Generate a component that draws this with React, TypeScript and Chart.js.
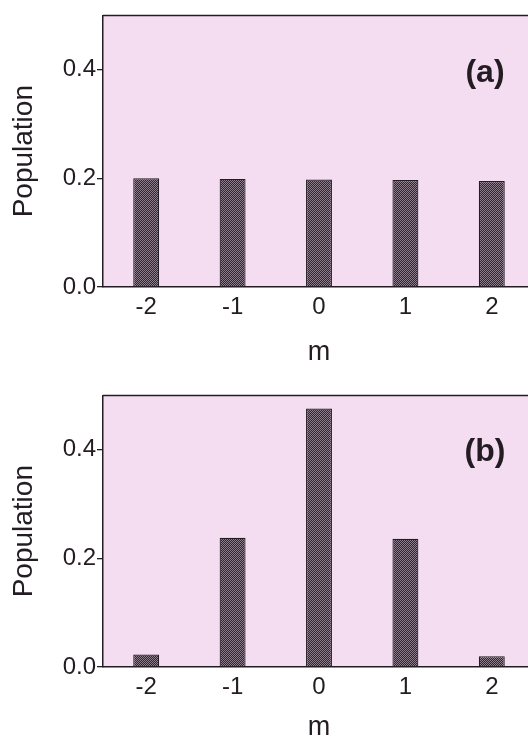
import React, { useEffect, useRef } from 'react';
import { Chart, registerables } from 'chart.js';

Chart.register(...registerables);

// ---- data ----
const mValues = ['-2', '-1', '0', '1', '2'];
const populationA = [0.2, 0.199, 0.198, 0.197, 0.195];
const populationB = [0.023, 0.238, 0.476, 0.236, 0.02];
const yTickValues = [0, 0.2, 0.4];
const yMax = 0.5;
const xTitle = 'm';
const yTitle = 'Population';

const FONT = '"Liberation Sans", Arial, Helvetica, sans-serif';
const PLOT_BG = '#f4dcf1';
const INK = '#231c22';

function makePattern(): CanvasPattern | string {
  const c = document.createElement('canvas');
  c.width = 2;
  c.height = 2;
  const g = c.getContext('2d');
  if (!g) return '#564a55';
  g.fillStyle = '#2e252d';
  g.fillRect(0, 0, 2, 2);
  g.fillStyle = '#8e7f8c';
  g.fillRect(0, 0, 1, 1);
  g.fillRect(1, 1, 1, 1);
  const p = g.createPattern(c, 'repeat');
  return p || '#564a55';
}

type PanelProps = {
  values: number[];
  label: string;
  top: number;
  titlePad: number;
  labelDy: number;
};

function Panel({ values, label, top, titlePad, labelDy }: PanelProps) {
  const ref = useRef<HTMLCanvasElement | null>(null);

  useEffect(() => {
    if (!ref.current) return;
    const panelPlugin = {
      id: 'panelDeco',
      beforeDraw(chart: any) {
        const { ctx, chartArea } = chart;
        ctx.save();
        ctx.fillStyle = PLOT_BG;
        ctx.fillRect(chartArea.left, chartArea.top, chartArea.right - chartArea.left, chartArea.bottom - chartArea.top);
        ctx.restore();
      },
      afterDraw(chart: any) {
        const { ctx, chartArea } = chart;
        ctx.save();
        ctx.strokeStyle = INK;
        ctx.lineWidth = 1.5;
        ctx.beginPath();
        ctx.moveTo(chartArea.left, chartArea.top);
        ctx.lineTo(chartArea.right, chartArea.top);
        ctx.lineTo(chartArea.right, chartArea.bottom);
        ctx.stroke();
        ctx.fillStyle = INK;
        ctx.font = `bold 32px ${FONT}`;
        ctx.textAlign = 'center';
        ctx.textBaseline = 'middle';
        ctx.fillText(label, chartArea.right - 50, chartArea.top + labelDy);
        ctx.restore();
      },
    };

    const chart = new Chart(ref.current, {
      type: 'bar',
      data: {
        labels: mValues,
        datasets: [
          {
            data: values,
            backgroundColor: makePattern() as any,
            borderColor: INK,
            borderWidth: 1.2,
            barPercentage: 0.3,
            categoryPercentage: 1,
          },
        ],
      },
      options: {
        responsive: false,
        animation: false,
        devicePixelRatio: 1,
        layout: { padding: { top: 13, right: 25, bottom: 0, left: 0 } },
        plugins: { legend: { display: false }, tooltip: { enabled: false } },
        scales: {
          x: {
            type: 'category',
            offset: true,
            grid: { display: false, drawTicks: false, tickLength: 0 },
            border: { display: true, color: INK, width: 1.5 },
            ticks: { color: INK, font: { family: FONT, size: 24 }, padding: 6 },
            title: {
              display: true,
              text: xTitle,
              color: INK,
              font: { family: FONT, size: 27 },
              padding: { top: 0, bottom: titlePad },
            },
            afterFit(scale: any) {
              scale.height = 83;
            },
          },
          y: {
            min: 0,
            max: yMax,
            grid: { display: true, drawOnChartArea: false, drawTicks: true, tickLength: 6, color: INK, lineWidth: 1.3 },
            border: { display: true, color: INK, width: 1.5 },
            ticks: {
              color: INK,
              font: { family: FONT, size: 24 },
              padding: 1,
              callback: (v: any) => Number(v).toFixed(1),
            },
            afterBuildTicks(scale: any) {
              scale.ticks = yTickValues.map((v) => ({ value: v }));
            },
            title: {
              display: true,
              text: yTitle,
              color: INK,
              font: { family: FONT, size: 28 },
              padding: { top: 7, bottom: 0 },
            },
            afterFit(scale: any) {
              scale.width = 103;
            },
          },
        },
      },
      plugins: [panelPlugin],
    } as any);
    return () => chart.destroy();
  }, [values, label, titlePad, labelDy]);

  return (
    <canvas
      ref={ref}
      width={560}
      height={370}
      style={{ position: 'absolute', left: 0, top, width: 560, height: 370 }}
    />
  );
}

export default function App() {
  return (
    <div
      style={{
        position: 'fixed',
        left: 0,
        top: 0,
        width: 528,
        height: 738,
        overflow: 'hidden',
        background: '#ffffff',
      }}
    >
      <Panel values={populationA} label="(a)" top={0} titlePad={1} labelDy={58} />
      <Panel values={populationB} label="(b)" top={380} titlePad={6} labelDy={57} />
    </div>
  );
}
